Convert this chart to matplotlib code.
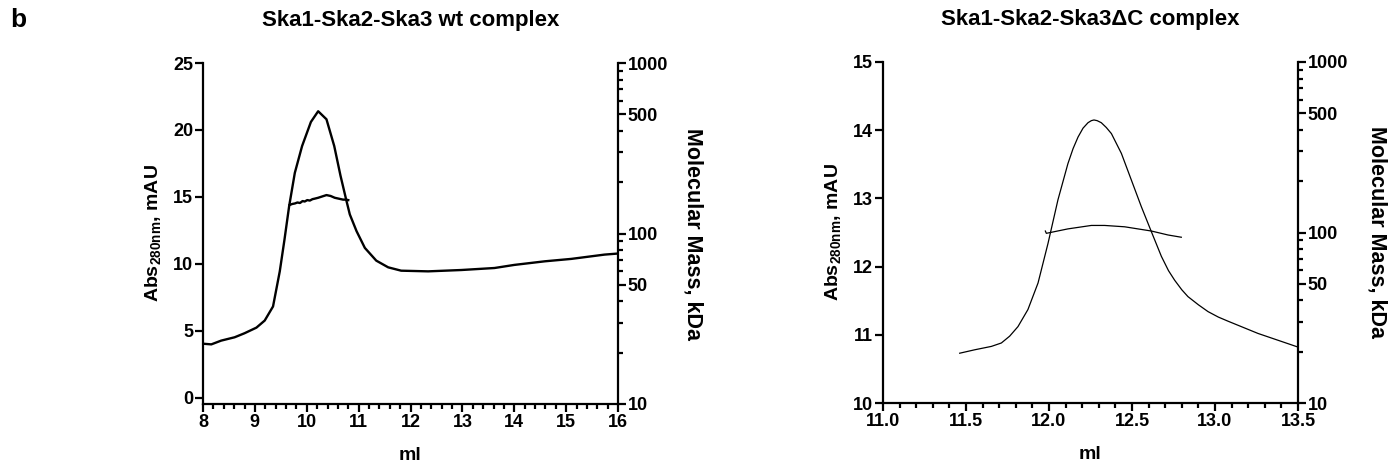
import matplotlib
matplotlib.use("Agg")
import matplotlib.pyplot as plt
from matplotlib.ticker import FixedLocator, MultipleLocator, NullFormatter, FormatStrFormatter

plt.rcParams['font.family'] = ['Liberation Sans', 'DejaVu Sans']
plt.rcParams['font.weight'] = 'bold'
plt.rcParams['axes.labelweight'] = 'bold'
plt.rcParams['axes.titleweight'] = 'bold'
plt.rcParams['mathtext.fontset'] = 'custom'
plt.rcParams['mathtext.bf'] = 'Liberation Sans:bold'
plt.rcParams['mathtext.rm'] = 'Liberation Sans:bold'
plt.rcParams['mathtext.default'] = 'bf'

# --- panel 1: wild type complex ---
wt_ml = [8.0, 8.16, 8.35, 8.61, 8.80, 9.03, 9.19, 9.35, 9.48, 9.57, 9.66, 9.77,
         9.91, 10.08, 10.22, 10.38, 10.53, 10.65, 10.76, 10.83, 10.96, 11.12,
         11.34, 11.57, 11.82, 12.34, 12.98, 13.62, 14.0, 14.59, 15.1, 15.74, 16.0]
wt_abs = [4.05, 4.0, 4.28, 4.53, 4.83, 5.25, 5.78, 6.83, 9.45, 11.8, 14.3, 16.8,
          18.8, 20.6, 21.4, 20.8, 18.8, 16.6, 14.8, 13.7, 12.45, 11.2,
          10.25, 9.75, 9.5, 9.45, 9.55, 9.7, 9.93, 10.2, 10.38, 10.7, 10.78]
wt_mm_ml = [9.67, 9.72, 9.77, 9.82, 9.87, 9.92, 9.96, 10.01, 10.06, 10.11, 10.15,
            10.22, 10.30, 10.38, 10.46, 10.54, 10.62, 10.70, 10.76, 10.80]
wt_mm = [147, 149, 150, 152, 151, 155, 154, 157, 156, 159, 160,
         162, 165, 168, 166, 162, 160, 158, 158, 157]

# --- panel 2: Ska3 delta C complex ---
dc_ml = [11.462, 11.552, 11.653, 11.713, 11.763, 11.813, 11.873, 11.934, 11.994,
         12.054, 12.114, 12.145, 12.175, 12.205, 12.235, 12.255, 12.271, 12.29,
         12.315, 12.345, 12.376, 12.436, 12.496, 12.556, 12.617, 12.677, 12.72,
         12.757, 12.8, 12.837, 12.9, 12.958, 13.02, 13.078, 13.259, 13.5]
dc_abs = [10.73, 10.78, 10.83, 10.88, 10.98, 11.12, 11.37, 11.76, 12.34,
          12.98, 13.51, 13.73, 13.9, 14.03, 14.11, 14.14, 14.15, 14.14,
          14.11, 14.04, 13.95, 13.66, 13.27, 12.88, 12.51, 12.15, 11.94,
          11.8, 11.66, 11.56, 11.44, 11.34, 11.26, 11.2, 11.02, 10.82]
dc_mm_ml = [11.978, 11.984, 12.004, 12.114, 12.255, 12.335, 12.456, 12.617, 12.717, 12.797]
dc_mm = [102, 98.9, 99.8, 105, 110, 110, 108, 102, 96.7, 93.8]

mass_ticks = [10, 50, 100, 500, 1000]
mass_minor = [20, 30, 40, 60, 70, 80, 90, 200, 300, 400, 600, 700, 800, 900]

fig = plt.figure(figsize=(13.91, 4.68), dpi=100)


def style_axes(ax, ax2):
    for a in (ax, ax2):
        a.spines['top'].set_visible(False)
        for s in a.spines.values():
            s.set_linewidth(1.6)
        a.tick_params(which='major', length=6, width=1.6, labelsize=13, pad=1)
        a.tick_params(which='minor', length=3.5, width=1.6)
    ax.spines['right'].set_visible(False)
    ax2.spines['left'].set_visible(False)
    ax2.spines['bottom'].set_visible(False)
    ax2.set_yscale('log')
    ax2.set_ylim(10, 1000)
    ax2.yaxis.set_major_locator(FixedLocator(mass_ticks))
    ax2.yaxis.set_minor_locator(FixedLocator(mass_minor))
    ax2.yaxis.set_minor_formatter(NullFormatter())
    ax2.set_yticklabels([str(t) for t in mass_ticks])
    ax2.set_ylabel('Molecular Mass, kDa', fontsize=15.5, rotation=270, va='bottom')
    ax.set_xlabel('ml', fontsize=14)
    ax.set_ylabel('Abs$_{280nm}$, mAU', fontsize=14)


# left panel
ax1 = fig.add_axes([203 / 1391, 1 - 404 / 468, 415 / 1391, 341 / 468])
ax1b = ax1.twinx()
ax1.plot(wt_ml, wt_abs, color='black', lw=1.7)
ax1b.plot(wt_mm_ml, wt_mm, color='black', lw=1.7)
ax1.set_xlim(8, 16)
ax1.set_ylim(-0.45, 25)
ax1.set_yticks([0, 5, 10, 15, 20, 25])
ax1.xaxis.set_major_locator(MultipleLocator(1))
ax1.xaxis.set_minor_locator(MultipleLocator(0.2))
style_axes(ax1, ax1b)
ax1.set_title('Ska1-Ska2-Ska3 wt complex', fontsize=16, pad=27)

# right panel
ax2 = fig.add_axes([883 / 1391, 1 - 403 / 468, 415 / 1391, 341 / 468])
ax2b = ax2.twinx()
ax2.plot(dc_ml, dc_abs, color='black', lw=0.9)
ax2b.plot(dc_mm_ml, dc_mm, color='black', lw=0.9)
ax2.set_xlim(11.0, 13.5)
ax2.set_ylim(10, 15)
ax2.set_yticks([10, 11, 12, 13, 14, 15])
ax2.xaxis.set_major_locator(MultipleLocator(0.5))
ax2.xaxis.set_minor_locator(MultipleLocator(0.1))
ax2.xaxis.set_major_formatter(FormatStrFormatter('%.1f'))
style_axes(ax2, ax2b)
ax2.set_title('Ska1-Ska2-Ska3\u0394C complex', fontsize=16, pad=27)

for a in (ax1, ax2):
    a.yaxis.set_label_coords(-0.097, 0.5)
    a.xaxis.set_label_coords(0.5, -0.125)
ax1b.yaxis.set_label_coords(1.155, 0.5)
ax2b.yaxis.set_label_coords(1.165, 0.5)

fig.text(10 / 1391, 1 - 20 / 468, 'b', fontsize=19, fontweight='bold', va='center')

fig.savefig('out.png', dpi=100)
